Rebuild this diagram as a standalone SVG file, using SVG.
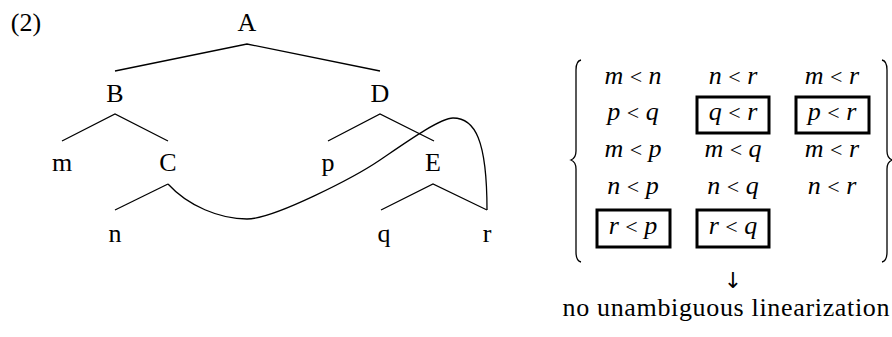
<svg xmlns="http://www.w3.org/2000/svg" width="892" height="337" viewBox="0 0 892 337">
<style>
.t{font-family:"Liberation Serif","Times New Roman",serif;font-size:26px;fill:#000;text-anchor:middle}
.m{font-family:"Liberation Serif","Times New Roman",serif;font-size:26px;font-style:italic;fill:#000;text-anchor:middle}
.lt{font-style:normal;font-size:22px}
.ar{font-family:"DejaVu Sans",sans-serif;font-size:22px;fill:#000;text-anchor:middle}
.e{fill:none;stroke:#000;stroke-width:1.3}
.box{fill:none;stroke:#000;stroke-width:3}
</style>
<rect width="892" height="337" fill="#fff"/>
<text class="t" x="26" y="31">(2)</text>
<g id="A"><text class="t" x="247" y="31">A</text></g>
<g id="B"><text class="t" x="115" y="102">B</text></g>
<g id="D"><text class="t" x="380" y="102">D</text></g>
<g id="m"><text class="t" x="62" y="171">m</text></g>
<g id="C"><text class="t" x="168" y="171">C</text></g>
<g id="p"><text class="t" x="328" y="171">p</text></g>
<g id="E"><text class="t" x="433" y="171">E</text></g>
<g id="n"><text class="t" x="115" y="242">n</text></g>
<g id="q"><text class="t" x="384" y="242">q</text></g>
<g id="r"><text class="t" x="487" y="242">r</text></g>
<g id="connectors">
<path class="e" d="M115,71 L247,44 L380,71"/>
<path class="e" d="M62,141 L115,114 L168,141"/>
<path class="e" d="M328,141 L380,114 L434,141"/>
<path class="e" d="M115,210 L168,184"/>
<path class="e" d="M381,210 L433,184 L487,210"/>
<path class="e" d="M168,184 C188,206 220,219 247,219 C274,219 355,177 380,160 C405,143 440,118 453,118 C475,118 487,140 487,210"/>
</g>
<g id="set">
<path class="e" d="M581,60 Q576,61 576,70 L576,151 Q576,158 571,160 Q576,162 576,169 L576,252 Q576,261 581,262"/>
<path class="e" d="M882,60 Q887,61 887,70 L887,151 Q887,158 892,160 Q887,162 887,169 L887,252 Q887,261 882,262"/>
<text class="m" x="633" y="84">m <tspan class="lt">&lt;</tspan> n</text>
<text class="m" x="733" y="84">n <tspan class="lt">&lt;</tspan> r</text>
<text class="m" x="832" y="84">m <tspan class="lt">&lt;</tspan> r</text>
<text class="m" x="633" y="120">p <tspan class="lt">&lt;</tspan> q</text>
<text class="m" x="733" y="120">q <tspan class="lt">&lt;</tspan> r</text>
<text class="m" x="832" y="120">p <tspan class="lt">&lt;</tspan> r</text>
<text class="m" x="633" y="157">m <tspan class="lt">&lt;</tspan> p</text>
<text class="m" x="733" y="157">m <tspan class="lt">&lt;</tspan> q</text>
<text class="m" x="832" y="157">m <tspan class="lt">&lt;</tspan> r</text>
<text class="m" x="633" y="194">n <tspan class="lt">&lt;</tspan> p</text>
<text class="m" x="733" y="194">n <tspan class="lt">&lt;</tspan> q</text>
<text class="m" x="832" y="194">n <tspan class="lt">&lt;</tspan> r</text>
<text class="m" x="633" y="234">r <tspan class="lt">&lt;</tspan> p</text>
<text class="m" x="733" y="234">r <tspan class="lt">&lt;</tspan> q</text>
<rect class="box" x="697" y="97" width="72" height="36"/>
<rect class="box" x="796" y="97" width="73" height="36"/>
<rect class="box" x="597" y="210" width="73" height="37"/>
<rect class="box" x="697" y="210" width="72" height="37"/>
</g>
<text class="ar" x="733" y="288">↓</text>
<text class="t" x="726" y="316" textLength="327" lengthAdjust="spacing">no unambiguous linearization</text>
</svg>
